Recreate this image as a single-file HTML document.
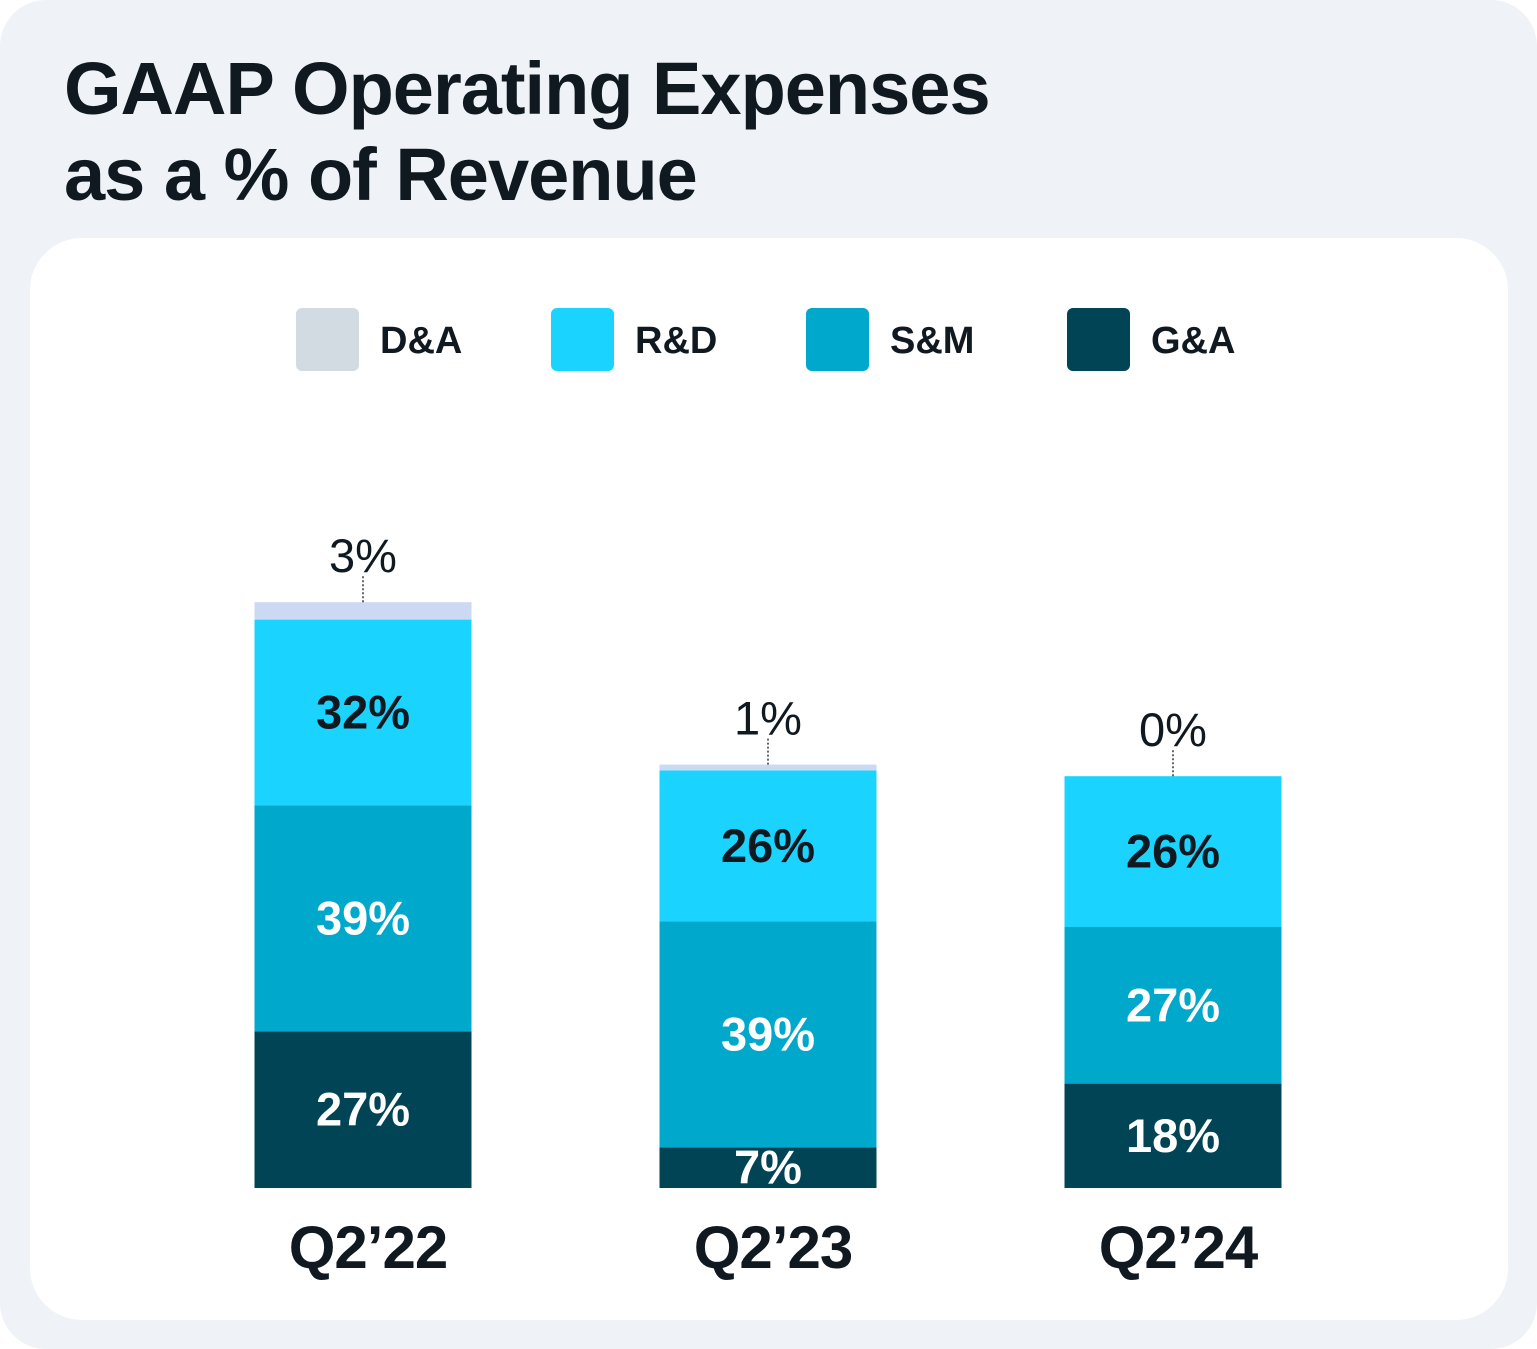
<!DOCTYPE html>
<html><head><meta charset="utf-8"><style>
html,body{margin:0;padding:0;background:#fff;}
#root{position:relative;width:1537px;height:1349px;background:#eff3f8;border-radius:46px;overflow:hidden;font-family:"Liberation Sans",sans-serif;color:#101820;}
#title{position:absolute;left:64px;top:46px;font-size:74px;font-weight:bold;line-height:86px;letter-spacing:-1px;margin:0;}
#card{position:absolute;left:30px;top:238px;width:1478px;height:1082px;background:#fff;border-radius:52px;}
svg{position:absolute;left:0;top:0;}
</style></head><body>
<div id="root">
<h1 id="title">GAAP Operating Expenses<br>as a % of Revenue</h1>
<div id="card"></div>
<svg id="chart" width="1537" height="1349"></svg>
</div>
<script>
const categories=["Q2\u201922","Q2\u201923","Q2\u201924"];
const seriesNames=["G&A","S&M","R&D","D&A"];
const gaValues=[27,7,18];
const smValues=[39,39,27];
const rdValues=[32,26,26];
const daValues=[3,1,0];
const legendOrder=["D&A","R&D","S&M","G&A"];
const colors={"G&A":"#004455","S&M":"#00a8cc","R&D":"#1ad4ff","D&A":"#cbd9f3"};
const legendColors={"D&A":"#d2dae2","R&D":"#1ad4ff","S&M":"#00a8cc","G&A":"#004455"};
const textColors={"G&A":"#fff","S&M":"#fff","R&D":"#101820"};
const NS="http://www.w3.org/2000/svg";
const svg=document.getElementById('chart');
const baseY=1188, pxPer=5.8, barW=217;
function xCenter(i){return 363+i*405;}
function yScale(v){return v*pxPer;}
function mk(tag,attrs){const e=document.createElementNS(NS,tag);for(const k in attrs)e.setAttribute(k,attrs[k]);svg.appendChild(e);return e;}
const legX=[296,551,806,1067];
legendOrder.forEach((n,i)=>{
  const r=mk('rect',{x:legX[i],y:308,width:63,height:63,rx:6,fill:legendColors[n]});
  
  
  const t=mk('text',{x:legX[i]+84,y:353,'font-size':38,'font-weight':'bold',fill:'#101820'});
  t.textContent=n;
  
  
});
const data={"G&A":gaValues,"S&M":smValues,"R&D":rdValues,"D&A":daValues};
categories.forEach((c,i)=>{
  const cx=xCenter(i);let y=baseY;
  seriesNames.forEach(s=>{
    const v=data[s][i];const h=yScale(v);
    if(h>0){
      const r=mk('rect',{x:cx-barW/2,y:y-h,width:barW,height:h,fill:colors[s]});
      
      
    }
    if(s!=="D&A"){
      const t=mk('text',{x:cx,y:y-h/2+16,'font-size':47,'font-weight':'bold','text-anchor':'middle',fill:textColors[s]});
      t.textContent=v+'%';
      
      
    }
    y-=h;
  });
  const l=mk('line',{x1:cx,y1:y-26,x2:cx,y2:y,stroke:'#333','stroke-width':1.5,'stroke-dasharray':'2,2'});
  
  
  const t=mk('text',{x:cx,y:y-30,'font-size':47,'text-anchor':'middle',fill:'#101820'});
  t.textContent=daValues[i]+'%';
  
  
  const ct=mk('text',{x:cx+5,y:1268,'font-size':60,'font-weight':'bold','text-anchor':'middle',fill:'#101820','letter-spacing':'-1'});
  ct.textContent=c;
  
  
});
</script>
</body></html>
